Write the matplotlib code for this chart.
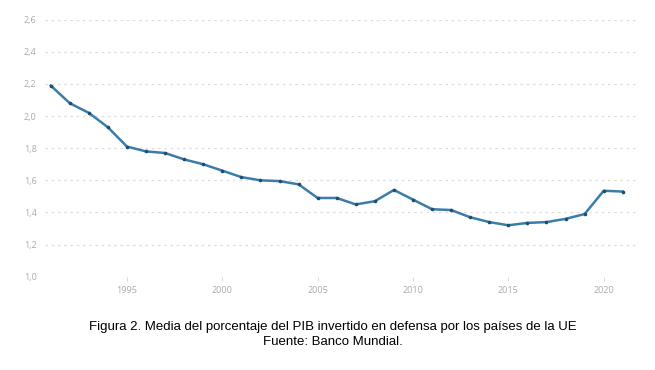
import matplotlib
matplotlib.use("Agg")
import matplotlib.pyplot as plt
from matplotlib.ticker import FuncFormatter

years = list(range(1991, 2022))
values = [2.19, 2.08, 2.02, 1.93, 1.81, 1.78, 1.77, 1.73, 1.70, 1.66,
          1.62, 1.60, 1.595, 1.575, 1.49, 1.49, 1.45, 1.47, 1.54, 1.48,
          1.42, 1.415, 1.37, 1.34, 1.32, 1.335, 1.34, 1.36, 1.39, 1.535,
          1.53]
xticks = [1995, 2000, 2005, 2010, 2015, 2020]
yticks = [1.0, 1.2, 1.4, 1.6, 1.8, 2.0, 2.2, 2.4, 2.6]
caption = ["Figura 2. Media del porcentaje del PIB invertido en defensa por los países de la UE",
           "Fuente: Banco Mundial."]

fig = plt.figure(figsize=(6.55, 3.70), dpi=100)
ax = fig.add_axes([45/655, 1-276.7/370, (638-45)/655, (276.7-19.7)/370])

ax.plot(years, values, color="#3a7da8", lw=1.8, marker="o", ms=1.6,
        mfc="#1f4e70", mec="#1f4e70", zorder=3)

ax.set_xlim(1990.7, 2021.8)
ax.set_ylim(1.0, 2.6)
ax.set_xticks(xticks)
ax.set_yticks(yticks)
ax.yaxis.set_major_formatter(FuncFormatter(lambda v, p: f"{v:.1f}".replace(".", ",")))
ax.grid(axis="y", color="#dddddd", lw=0.9, ls=(0, (2, 3)))
ax.set_axisbelow(True)
for s in ax.spines.values():
    s.set_visible(False)
ax.tick_params(axis="y", length=0, pad=6, labelsize=6.5, labelcolor="#aaaaaa")
ax.tick_params(axis="x", length=3, width=0.8, color="#dddddd", pad=4,
               labelsize=6.5, labelcolor="#aaaaaa")
for lab in ax.get_xticklabels() + ax.get_yticklabels():
    lab.set_family("Open Sans")

fig.text(333/655, 1-327/370, caption[0], ha="center", va="center",
         fontsize=9.5, family="Liberation Sans", color="black")
fig.text(333/655, 1-342/370, caption[1], ha="center", va="center",
         fontsize=9.5, family="Liberation Sans", color="black")

fig.savefig("out.png", dpi=100)
